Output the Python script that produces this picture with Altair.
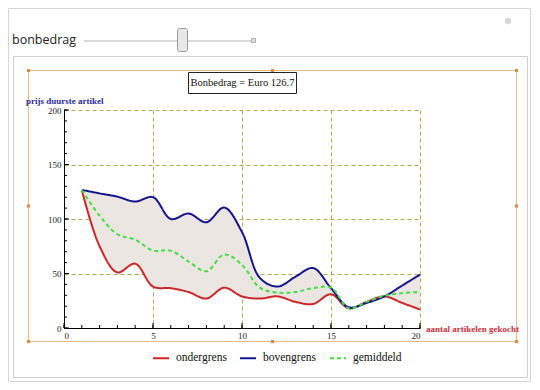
import altair as alt
import pandas as pd

# ---- data ----
bonbedrag = 126.7
aantal = list(range(1, 21))
ondergrens = [bonbedrag, 75, 51, 59, 38, 36.5, 33, 27, 37, 29, 27, 29, 24, 22, 31, 18, 24, 29, 23, 17]
bovengrens = [bonbedrag, 123.5, 120.5, 116, 120, 100, 105, 97, 110.5, 88, 46, 38, 47, 55, 36.5, 19, 23, 29, 39, 49]
gemiddeld = [bonbedrag, 103, 86, 81, 71, 71, 61, 52, 67.5, 58, 37, 32.5, 33, 36.5, 37, 18, 24, 29.5, 32, 33]
series_names = ["ondergrens", "bovengrens", "gemiddeld"]
x_label_values = [0, 5, 10, 15, 20]
y_label_values = [0, 50, 100, 150, 200]
x_minor_ticks = list(range(0, 21))
y_minor_ticks = list(range(0, 201, 10))

RED = "#cc2626"
BLUE = "#14148f"
GREEN = "#44dd44"
FILL = "#ece6e2"
SERIF = "Liberation Serif"
INTERP = "catmull-rom"

wide = pd.DataFrame({"x": aantal, "onder": ondergrens, "boven": bovengrens})
long = pd.DataFrame({
    "x": aantal * 3,
    "reeks": ["ondergrens"] * 20 + ["bovengrens"] * 20 + ["gemiddeld"] * 20,
    "waarde": ondergrens + bovengrens + gemiddeld,
})

xs = alt.Scale(domain=[0, 20], nice=False, zero=False)
ys = alt.Scale(domain=[0, 200], nice=False)

x_axis = alt.Axis(values=x_label_values, ticks=False, domainColor="black", domainWidth=1,
                  labelFont=SERIF, labelFontSize=9, labelColor="#222", labelPadding=3,
                  grid=True, gridDash=[4, 3], gridColor="#b8a858", gridWidth=1, title=None)
y_axis = alt.Axis(values=y_label_values, ticks=False, domainColor="black", domainWidth=1,
                  labelFont=SERIF, labelFontSize=9, labelColor="#222", labelPadding=3,
                  grid=True, gridDash=[4, 3], gridColor="#b8a858", gridWidth=1, title=None)

area = alt.Chart(wide).mark_area(interpolate=INTERP, color=FILL, opacity=1).encode(
    x=alt.X("x:Q", scale=xs, axis=x_axis),
    y=alt.Y("onder:Q", scale=ys, axis=y_axis),
    y2="boven:Q",
)

leg = alt.Legend(title=None, orient="none", legendX=88, legendY=239, direction="horizontal",
                 symbolType="stroke", symbolSize=256, symbolStrokeWidth=2,
                 labelFont=SERIF, labelFontSize=11.5, labelColor="#111",
                 labelOffset=6, columnPadding=9, padding=0)

lines = alt.Chart(long).mark_line(interpolate=INTERP, strokeWidth=2).encode(
    x=alt.X("x:Q", scale=xs),
    y=alt.Y("waarde:Q", scale=ys),
    color=alt.Color("reeks:N", scale=alt.Scale(domain=series_names, range=[RED, BLUE, GREEN]), legend=leg),
    strokeDash=alt.StrokeDash("reeks:N", scale=alt.Scale(domain=series_names, range=[[1, 0], [1, 0], [4, 3]]), legend=leg),
    order=alt.Order("x:Q"),
)

xt_minor = alt.Chart(pd.DataFrame({"t": x_minor_ticks})).mark_rule(color="black", strokeWidth=1).encode(
    x=alt.X("t:Q", scale=xs), y=alt.value(218), y2=alt.value(215))
xt_major = alt.Chart(pd.DataFrame({"t": x_label_values})).mark_rule(color="black", strokeWidth=1).encode(
    x=alt.X("t:Q", scale=xs), y=alt.value(218), y2=alt.value(213))
yt_minor = alt.Chart(pd.DataFrame({"t": y_minor_ticks})).mark_rule(color="black", strokeWidth=1).encode(
    y=alt.Y("t:Q", scale=ys), x=alt.value(0), x2=alt.value(3))
yt_major = alt.Chart(pd.DataFrame({"t": y_label_values})).mark_rule(color="black", strokeWidth=1).encode(
    y=alt.Y("t:Q", scale=ys), x=alt.value(0), x2=alt.value(5))

one = pd.DataFrame({"d": [0]})
base = alt.Chart(one)

def box(x, x2, y, y2, stroke, sw=1, fill="transparent", radius=0):
    return base.mark_rect(stroke=stroke, strokeWidth=sw, fill=fill, cornerRadius=radius).encode(
        x=alt.value(x), x2=alt.value(x2), y=alt.value(y), y2=alt.value(y2))

outer = box(-55.5, 466.5, -101.5, 271.5, "#d6d6d6")
inner = box(-50.5, 463.5, -53.5, 267.5, "#cfcfcf")
orange = box(-35.5, 452.5, -39.5, 231.5, "#e2bd88")

handles = []
for hx, hy in [(-35.5, -39.5), (208.5, -39.5), (452.5, -39.5), (-35.5, 96), (452.5, 96),
               (-35.5, 231.5), (208.5, 231.5), (452.5, 231.5)]:
    handles.append(base.mark_square(size=10, color="#e08a4a", opacity=1).encode(
        x=alt.value(hx), y=alt.value(hy)))

track = base.mark_rule(color="#b4b4b4", strokeWidth=1).encode(
    x=alt.value(20), x2=alt.value(189), y=alt.value(-69))
thumb = box(113.5, 123.5, -81.5, -58.5, "#9a9a9a", 1, "#e8e8e8", 2)
plusbox = box(187.5, 191.5, -71.5, -67.5, "#b0b0b0", 1, "#dddddd")
circ = base.mark_point(shape="circle", size=40, filled=True, color="#c4c4c4").encode(
    x=alt.value(444), y=alt.value(-89))
slider_label = base.mark_text(text="bonbedrag", font="Open Sans", fontSize=12.5, color="#222",
                              align="left", baseline="middle").encode(x=alt.value(-52), y=alt.value(-70))

title_box = box(124.5, 232.5, -37.5, -16.5, "#222", 1, "white")
title_txt = base.mark_text(text=f"Bonbedrag = Euro {bonbedrag}", font=SERIF, fontSize=10.5, color="#111",
                           align="center", baseline="middle").encode(x=alt.value(178.5), y=alt.value(-27))

ytitle = base.mark_text(text="prijs duurste artikel", font=SERIF, fontSize=9, fontWeight="bold",
                        color="#2a2aa0", align="left", baseline="middle").encode(x=alt.value(-38), y=alt.value(-9))
xtitle = base.mark_text(text="aantal artikelen gekocht", font=SERIF, fontSize=9, fontWeight="bold",
                        color="#cc3040", align="left", baseline="middle").encode(x=alt.value(362), y=alt.value(219))

chart = alt.layer(
    outer, inner, orange, *handles, track, thumb, plusbox, circ, slider_label,
    area, lines, xt_minor, xt_major, yt_minor, yt_major,
    title_box, title_txt, ytitle, xtitle,
).properties(
    width=356, height=218,
    padding={"left": 56, "top": 102, "right": 112, "bottom": 54},
    autosize=alt.AutoSizeParams(type="none"),
    background="white",
).configure_view(stroke=None)

chart.save("out.html", embed_options={"renderer": "svg", "actions": False})
